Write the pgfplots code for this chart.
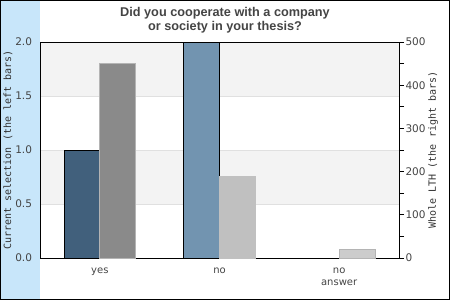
\documentclass[border=0pt]{standalone}
\usepackage{fontspec}
\setmainfont{DejaVu Sans}
\setmonofont{DejaVu Sans Mono}
\newfontfamily\titlefont{Liberation Sans}
\usepackage{pgfplots}
\pgfplotsset{compat=1.18}
\definecolor{strip}{HTML}{C8E6FA}
\definecolor{bandgray}{HTML}{F3F3F3}
\definecolor{gridgray}{HTML}{E0E0E0}
\definecolor{txtgray}{HTML}{444444}
\definecolor{cyes}{HTML}{41607C}
\definecolor{cno}{HTML}{7294B0}
\definecolor{gyes}{HTML}{8A8A8A}
\definecolor{gno}{HTML}{C0C0C0}
\definecolor{gna}{HTML}{CCCCCC}
\definecolor{gedge}{HTML}{B4B4B4}
\begin{document}
\begin{tikzpicture}
\fill[strip] (1pt,1pt) rectangle (40pt,299pt);
\draw[line width=1pt] (0.5pt,0.5pt) rectangle (449.5pt,299.5pt);
\node[align=center, text=txtgray, font=\titlefont\bfseries\fontsize{12.7}{14}\selectfont] at (225pt,280pt) {Did you cooperate with a company\\or society in your thesis?};
% background bands
\begin{axis}[
  at={(40pt,42pt)}, anchor=south west,
  scale only axis, width=359pt, height=216pt,
  xmin=-0.5, xmax=2.5, ymin=0, ymax=2,
  hide axis,
]
\addplot[fill=bandgray, draw=none] coordinates {(-0.5,1.5) (2.5,1.5) (2.5,2) (-0.5,2)} -- cycle;
\addplot[fill=bandgray, draw=none] coordinates {(-0.5,0.5) (2.5,0.5) (2.5,1) (-0.5,1)} -- cycle;
\end{axis}
\begin{axis}[
  at={(40pt,42pt)}, anchor=south west,
  scale only axis, width=359pt, height=216pt,
  xmin=-0.5, xmax=2.5, ymin=0, ymax=2,
  xtick={0,1,2},
  xticklabels={yes,no,{no\\answer}},
  xticklabel style={align=center, text=txtgray, font=\fontsize{10}{12}\selectfont, yshift=-6pt},
  ytick={0,0.5,1,1.5,2},
  yticklabel style={text=txtgray, font=\fontsize{10.5}{12}\selectfont, xshift=-4.5pt,
    /pgf/number format/.cd, fixed, fixed zerofill, precision=1},
  /pgf/number format/assume math mode=true,
  major tick length=0pt,
  ymajorgrids, major grid style={gridgray, line width=0.8pt},
  axis line style={black, line width=0.8pt},
  ylabel={\ttfamily Current selection (the left bars)},
  ylabel style={at={(axis description cs:-0.089,0.5)}, anchor=center, text=black!80, font=\fontsize{10}{12}\selectfont},
  ybar, bar width=0.3,
]
\addplot[bar shift=-0.15, fill=cyes, draw=black, line width=0.8pt] coordinates {(0,1.0)};
\addplot[bar shift=-0.15, fill=cno, draw=black, line width=0.8pt] coordinates {(1,2.0)};
\end{axis}
\begin{axis}[
  at={(40pt,42pt)}, anchor=south west,
  scale only axis, width=359pt, height=216pt,
  xmin=-0.5, xmax=2.5, ymin=0, ymax=500,
  axis x line=none, axis y line*=right,
  ytick={0,100,...,500},
  minor ytick={50,150,...,450},
  tick align=outside,
  major tick length=5pt, minor tick length=5pt,
  every tick/.style={black, line width=0.8pt},
  axis line style={black, line width=0.8pt},
  yticklabel style={text=txtgray, font=\fontsize{10.5}{12}\selectfont, xshift=-2pt},
  /pgf/number format/assume math mode=true,
  ylabel={\ttfamily Whole LTH (the right bars)},
  ylabel style={at={(axis description cs:1.095,0.5)}, anchor=center, rotate=0, text=black!80, font=\fontsize{10}{12}\selectfont},
  ybar, bar width=0.3,
]
\addplot[bar shift=0.15, fill=gyes, draw=gedge, line width=0.8pt] coordinates {(0,450)};
\addplot[bar shift=0.15, fill=gno, draw=gno, line width=0.8pt] coordinates {(1,188)};
\addplot[bar shift=0.15, fill=gna, draw=gedge, line width=0.8pt] coordinates {(2,20)};
\end{axis}
\end{tikzpicture}
\end{document}
